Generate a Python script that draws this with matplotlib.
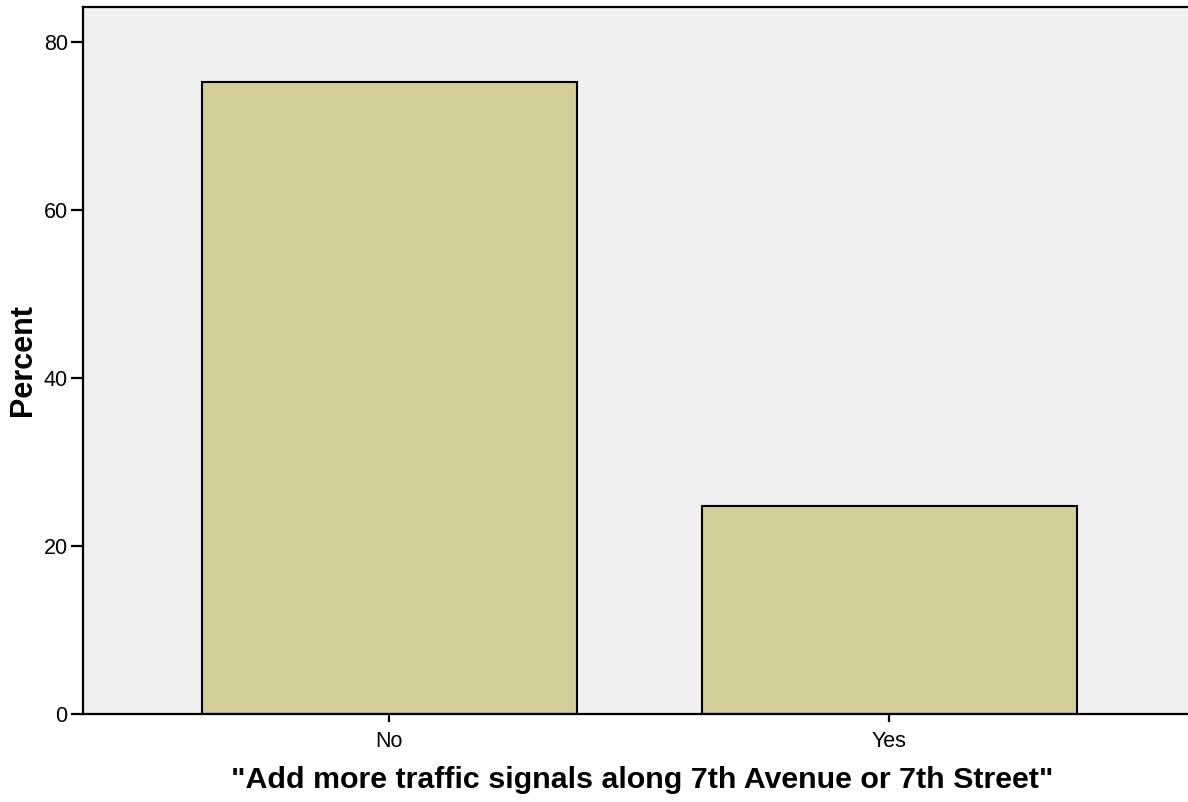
import matplotlib
matplotlib.use("Agg")
from matplotlib import pyplot as plt

plt.rcParams['font.family'] = ['Liberation Sans', 'DejaVu Sans']

categories = ["No", "Yes"]
percent = [75.24, 24.76]

fig = plt.figure(figsize=(11.88, 8.02), dpi=100)
ax = fig.add_axes([83/1188, 1 - 714/802, 1 - 83/1188, 707/802])
ax.set_facecolor("#f0f0f0")

x = list(range(len(categories)))
ax.bar(x, percent, width=0.75, color="#d3cd98", edgecolor="black", linewidth=1.5, zorder=2)

ax.set_xlim(-0.612, 1.598)
ax.set_ylim(0, 84.2)
ax.set_xticks(x)
ax.set_xticklabels(categories)
ax.set_yticks([0, 20, 40, 60, 80])

for s in ["left", "bottom", "top"]:
    ax.spines[s].set_linewidth(1.6)
ax.spines["right"].set_visible(False)

ax.tick_params(axis="y", length=9, width=1.6, labelsize=15.5, pad=2)
ax.tick_params(axis="x", length=6, width=1.6, labelsize=15.5, pad=6)

ax.set_ylabel("Percent", fontsize=22, fontweight="bold", labelpad=4)
ax.set_xlabel('"Add more traffic signals along 7th Avenue or 7th Street"', fontsize=21.9, fontweight="bold", labelpad=10)
ax.xaxis.label.set_x(0.506)

plt.savefig("out.png", dpi=100)
